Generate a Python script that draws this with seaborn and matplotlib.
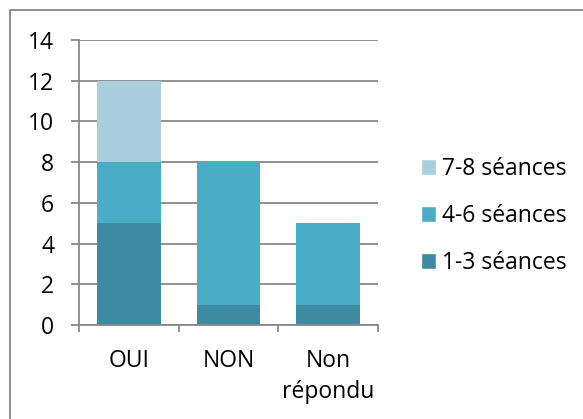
import matplotlib
matplotlib.use("Agg")
import matplotlib.pyplot as plt
import seaborn as sns
import pandas as pd
from matplotlib.patches import Patch, Rectangle

categories = ["OUI", "NON", "Non\nrépondu"]
s13 = [5, 1, 1]
s46 = [3, 7, 4]
s78 = [4, 0, 0]
series_labels = ["7-8 séances", "4-6 séances", "1-3 séances"]
colors = {"1-3": "#3D8BA3", "4-6": "#4BACC6", "7-8": "#AACEDD"}

sns.set_style("white")
plt.rcParams['font.family'] = ['Open Sans', 'DejaVu Sans']
plt.rcParams['text.color'] = 'black'
plt.rcParams['xtick.color'] = 'black'
plt.rcParams['ytick.color'] = 'black'

df = pd.DataFrame({"cat": categories, "s13": s13, "s46": s46, "s78": s78})
df["c2"] = df["s13"] + df["s46"]
df["c3"] = df["c2"] + df["s78"]

fig = plt.figure(figsize=(5.83, 4.19), dpi=100)
ax = fig.add_axes([79/583, 1-325/419, (378-79)/583, (325-40)/419])

gray = "#888888"
for col, c in [("c3", colors["7-8"]), ("c2", colors["4-6"]), ("s13", colors["1-3"])]:
    sns.barplot(data=df, x="cat", y=col, color=c, width=0.64, ax=ax,
                saturation=1, linewidth=0, zorder=3)

ax.set_ylim(0, 14)
ax.set_xlim(-0.5, 2.5)
ax.set_yticks(range(0, 15, 2))
ax.grid(axis="y", color=gray, linewidth=1.3, zorder=0)
ax.set_axisbelow(True)
for s in ["top", "right"]:
    ax.spines[s].set_visible(False)
for s in ["left", "bottom"]:
    ax.spines[s].set_color(gray)
    ax.spines[s].set_linewidth(1.3)
    ax.spines[s].set_zorder(4)
ax.set_xlabel("")
ax.set_ylabel("")
ax.tick_params(axis="y", length=6, width=1.3, color=gray, labelcolor="black", pad=12, labelsize=16.5, left=True)
ax.tick_params(axis="x", which="major", length=0, pad=17, labelsize=16.5, labelcolor="black")
ax.set_xticks([-0.5, 0.5, 1.5, 2.5], minor=True)
ax.tick_params(axis="x", which="minor", length=5, width=1.3, color=gray, bottom=True)
for t in ax.get_xticklabels():
    t.set_linespacing(1.4)
    t.set_verticalalignment("top")

handles = [Patch(facecolor=colors["7-8"]), Patch(facecolor=colors["4-6"]), Patch(facecolor=colors["1-3"])]
fig.legend(handles, series_labels, loc="center left", bbox_to_anchor=(400/583, 1-216/419),
           frameon=False, fontsize=16.5, handlelength=0.65, handleheight=0.65,
           handletextpad=0.3, labelspacing=1.0, labelcolor="black")

fig.patches.append(Rectangle((10/583, -0.1), 1.2, 1-10/419+0.1, transform=fig.transFigure,
                             fill=False, edgecolor=gray, linewidth=1.3))

fig.savefig("out.png", dpi=100)
